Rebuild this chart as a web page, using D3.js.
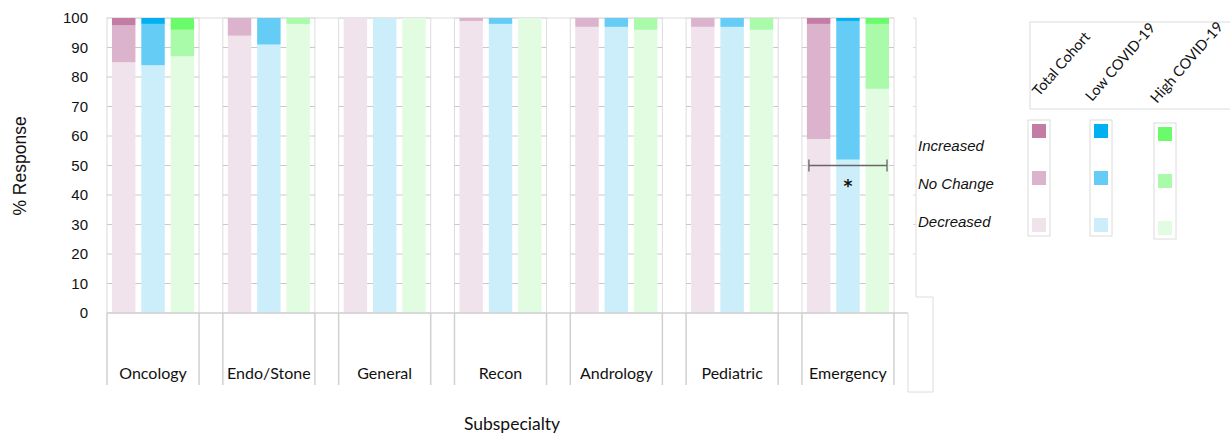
<!DOCTYPE html>
<html>
<head>
<meta charset="utf-8">
<script src="https://cdn.jsdelivr.net/npm/d3@7"></script>
<style>
  body { margin: 0; background: #fff; }
  svg { display: block; }
</style>
</head>
<body>
<div id="chart"></div>
<script>
// ------------------- //
// DATA
// ------------------- //

var categories = ["Oncology", "Endo/Stone", "General", "Recon", "Andrology", "Pediatric", "Emergency"]
var cohorts = ["Total Cohort", "Low COVID-19", "High COVID-19"]
var levels = ["Increased", "No Change", "Decreased"]
var yTicks = [0, 10, 20, 30, 40, 50, 60, 70, 80, 90, 100]

// % response per subspecialty, one array per cohort and level
var totalDecreased = [85, 94, 100, 99, 97, 97, 59]
var totalNoChange  = [12.5, 6, 0, 1, 3, 3, 39]
var totalIncreased = [2.5, 0, 0, 0, 0, 0, 2]

var lowDecreased = [84, 91, 100, 98, 97, 97, 52]
var lowNoChange  = [14, 9, 0, 2, 3, 3, 47]
var lowIncreased = [2, 0, 0, 0, 0, 0, 1]

var highDecreased = [87, 98, 100, 100, 96, 96, 76]
var highNoChange  = [9, 2, 0, 0, 4, 4, 22]
var highIncreased = [4, 0, 0, 0, 0, 0, 2]

// significant difference marked on Emergency
var sigCategory = "Emergency"
var sigLevel = 50

// colours: [decreased, no change, increased] per cohort
var colors = {
  "Total Cohort":  ["#f1e3ec", "#dcb3cc", "#c37ca4"],
  "Low COVID-19":  ["#ccedfa", "#65cdf5", "#00b0f0"],
  "High COVID-19": ["#e2fce2", "#a9fba9", "#6afb6a"]
}

var seriesValues = {
  "Total Cohort":  [totalDecreased, totalNoChange, totalIncreased],
  "Low COVID-19":  [lowDecreased, lowNoChange, lowIncreased],
  "High COVID-19": [highDecreased, highNoChange, highIncreased]
}

// flatten into stacked segments
var segments = []
cohorts.forEach(function(c) {
  categories.forEach(function(cat, i) {
    var y0 = 0
    seriesValues[c].forEach(function(arr, k) {
      var v = arr[i]
      segments.push({cat: cat, cohort: c, k: k, y0: y0, y1: y0 + v})
      y0 += v
    })
  })
})

// ------------------- //
// SVG
// ------------------- //

var W = 1230, H = 437
var svg = d3.select("#chart").append("svg")
  .attr("width", W)
  .attr("height", H)

var plotTop = 18, plotBottom = 313

var y = d3.scaleLinear()
  .domain([0, 100])
  .range([plotBottom, plotTop])

var x = d3.scaleBand()
  .domain(categories)
  .range([107, 894])
  .paddingInner(0.205)
  .paddingOuter(0)

var xs = d3.scaleBand()
  .domain(cohorts)
  .range([0, x.bandwidth()])
  .paddingInner(0.2)
  .paddingOuter(0.17)

var frameColor = "#dcdcdc"
var gridColor = "#c9c9c9"

// top line across the plot
svg.append("line")
  .attr("x1", x.range()[0]).attr("x2", x.range()[1])
  .attr("y1", y(100)).attr("y2", y(100))
  .attr("stroke", frameColor)

// panels with gridlines
var panels = svg.selectAll(".panel")
  .data(categories)
  .enter()
  .append("g")
    .attr("class", "panel")
    .attr("transform", function(d) { return "translate(" + x(d) + ",0)" })

panels.append("rect")
  .attr("x", 0)
  .attr("y", y(100))
  .attr("width", x.bandwidth())
  .attr("height", y(0) - y(100))
  .attr("fill", "none")
  .attr("stroke", frameColor)

panels.selectAll(".grid")
  .data(yTicks.slice(1, -1))
  .enter()
  .append("line")
    .attr("x1", 0).attr("x2", x.bandwidth())
    .attr("y1", function(d) { return y(d) })
    .attr("y2", function(d) { return y(d) })
    .attr("stroke", gridColor)
    .attr("stroke-width", 1.2)

// bars
svg.selectAll(".seg")
  .data(segments.filter(function(d) { return d.y1 > d.y0 }))
  .enter()
  .append("rect")
    .attr("x", function(d) { return x(d.cat) + xs(d.cohort) })
    .attr("width", xs.bandwidth())
    .attr("y", function(d) { return y(d.y1) })
    .attr("height", function(d) { return y(d.y0) - y(d.y1) })
    .attr("fill", function(d) { return colors[d.cohort][d.k] })

// bottom line and category dividers
svg.append("line")
  .attr("x1", x.range()[0]).attr("x2", 908)
  .attr("y1", y(0)).attr("y2", y(0))
  .attr("stroke", "#d0d0d0")
  .attr("stroke-width", 1.5)

categories.forEach(function(c) {
  [x(c), x(c) + x.bandwidth()].forEach(function(px) {
    svg.append("line")
      .attr("x1", px).attr("x2", px)
      .attr("y1", y(0)).attr("y2", 385)
      .attr("stroke", "#d0d0d0")
      .attr("stroke-width", 1.5)
  })
})

// odd leftover frame at the right
svg.append("line")
  .attr("x1", 916).attr("x2", 916)
  .attr("y1", y(100)).attr("y2", 297)
  .attr("stroke", frameColor)
svg.selectAll(".rtick")
  .data(yTicks.slice(2))
  .enter()
  .append("line")
    .attr("x1", 913).attr("x2", 916)
    .attr("y1", function(d) { return y(d) })
    .attr("y2", function(d) { return y(d) })
    .attr("stroke", frameColor)
svg.append("path")
  .attr("d", "M916,297H933V392H908V313")
  .attr("fill", "none")
  .attr("stroke", frameColor)

// category labels
svg.selectAll(".catLabel")
  .data(categories)
  .enter()
  .append("text")
    .attr("x", function(d) { return x(d) + x.bandwidth() / 2 })
    .attr("y", 379)
    .attr("text-anchor", "middle")
    .style("font-family", "Lato, sans-serif")
    .style("font-size", "16px")
    .style("fill", "#111")
    .text(function(d) { return d })

// y tick labels
svg.selectAll(".yLabel")
  .data(yTicks)
  .enter()
  .append("text")
    .attr("x", 88)
    .attr("y", function(d) { return y(d) })
    .attr("dy", "0.36em")
    .attr("text-anchor", "end")
    .style("font-family", "'Liberation Sans', Arial, sans-serif")
    .style("font-size", "15px")
    .style("fill", "#111")
    .text(function(d) { return d })

// axis titles
svg.append("text")
  .attr("transform", "translate(26,166) rotate(-90)")
  .attr("text-anchor", "middle")
  .style("font-family", "'Liberation Sans', Arial, sans-serif")
  .style("font-size", "17.5px")
  .style("fill", "#111")
  .text("% Response")

svg.append("text")
  .attr("x", 512)
  .attr("y", 430)
  .attr("text-anchor", "middle")
  .style("font-family", "Lato, sans-serif")
  .style("font-size", "17.5px")
  .style("fill", "#111")
  .text("Subspecialty")

// significance bracket
var bx1 = x(sigCategory) + xs(cohorts[0]) + 2
var bx2 = x(sigCategory) + xs(cohorts[2]) + xs.bandwidth() - 2
svg.append("path")
  .attr("d", "M" + bx1 + "," + (y(sigLevel) - 6) + "V" + (y(sigLevel) + 6) +
             "M" + bx1 + "," + y(sigLevel) + "H" + bx2 +
             "M" + bx2 + "," + (y(sigLevel) - 6) + "V" + (y(sigLevel) + 6))
  .attr("fill", "none")
  .attr("stroke", "#666")
  .attr("stroke-width", 1.3)
svg.append("text")
  .attr("x", x(sigCategory) + xs(cohorts[1]) + xs.bandwidth() / 2)
  .attr("y", y(sigLevel) + 26)
  .attr("text-anchor", "middle")
  .style("font-family", "'DejaVu Sans', sans-serif")
  .style("font-size", "17px")
  .style("font-weight", "bold")
  .style("fill", "#111")
  .text("*")

// ------------------- //
// LEGEND
// ------------------- //

svg.append("rect")
  .attr("x", 1030).attr("y", 22)
  .attr("width", 205).attr("height", 87)
  .attr("fill", "none")
  .attr("stroke", frameColor)

var legX = {"Total Cohort": 1032, "Low COVID-19": 1094, "High COVID-19": 1158}
var legDy = {"Total Cohort": 0, "Low COVID-19": 0, "High COVID-19": 3}
var labelPos = {"Total Cohort": [1039, 97], "Low COVID-19": [1092, 102], "High COVID-19": [1157, 104]}
var rowY = [124, 171, 218]

cohorts.forEach(function(c) {
  var g = svg.append("g")
  g.append("rect")
    .attr("x", legX[c] - 4).attr("y", rowY[0] - 4 + legDy[c])
    .attr("width", 22).attr("height", rowY[2] - rowY[0] + 22)
    .attr("fill", "none")
    .attr("stroke", frameColor)
  g.selectAll("rect.sw")
    .data(levels)
    .enter()
    .append("rect")
      .attr("class", "sw")
      .attr("x", legX[c])
      .attr("y", function(d, i) { return rowY[i] + legDy[c] })
      .attr("width", 14).attr("height", 14)
      .attr("fill", function(d, i) { return colors[c][2 - i] })
  svg.append("text")
    .attr("transform", "translate(" + labelPos[c][0] + "," + labelPos[c][1] + ") rotate(-49)")
    .style("font-family", "Lato, sans-serif")
    .style("font-size", "14.5px")
    .style("fill", "#111")
    .text(c)
})

svg.selectAll(".levelLabel")
  .data(levels)
  .enter()
  .append("text")
    .attr("x", 918)
    .attr("y", function(d, i) { return 151 + i * 38 })
    .style("font-family", "'Liberation Sans', Arial, sans-serif")
    .style("font-size", "15px")
    .style("font-style", "italic")
    .style("fill", "#111")
    .text(function(d) { return d })
</script>
</body>
</html>
